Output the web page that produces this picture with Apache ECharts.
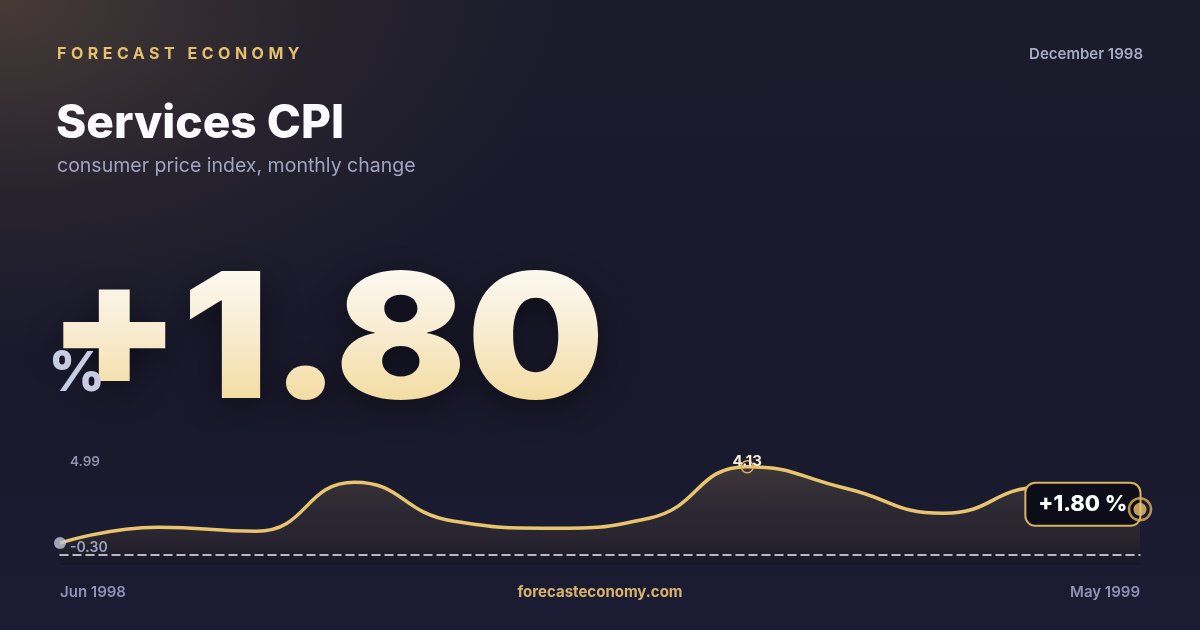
<!DOCTYPE html>
<html>
<head>
<meta charset="utf-8">
<script src="https://cdn.jsdelivr.net/npm/echarts@6/dist/echarts.min.js"></script>
<style>
  html, body { margin: 0; padding: 0; }
  body {
    width: 1200px; height: 630px; overflow: hidden; position: relative;
    background:
      radial-gradient(ellipse 760px 480px at 0% 0%, rgba(105,84,62,0.55) 0%, rgba(80,64,52,0.25) 40%, rgba(40,36,48,0) 75%),
      linear-gradient(180deg, #1b1b2c 0%, #19192c 60%, #1b1b33 100%);
    font-family: Inter, "Noto Sans", sans-serif;
  }
  #kicker {
    position: absolute; left: 57px; top: 44px; line-height: 18px;
    font-size: 16px; font-weight: 700; letter-spacing: 4.5px; color: #e4c06c;
    font-family: Inter, sans-serif; z-index: 2; white-space: nowrap;
  }
  #big {
    position: absolute; left: 47px; top: 248px; z-index: 3;
    font-family: Inter, sans-serif; font-size: 174px; line-height: 174px; font-weight: 900;
    white-space: nowrap; transform: scaleX(1.115); transform-origin: 0 0;
    background: linear-gradient(180deg, #fefdfb 0%, #f8edd4 45%, #f2d894 100%);
    -webkit-background-clip: text; background-clip: text; color: transparent;
    filter: drop-shadow(0 10px 16px rgba(0,0,0,0.45));
  }
  #pct {
    position: absolute; left: 48.5px; top: 344px; z-index: 4;
    font-family: Inter, sans-serif; font-size: 55px; line-height: 55px; font-weight: 800;
    color: #c8cbe4; white-space: nowrap;
  }
  #chart { position: absolute; left: 0; top: 0; width: 1200px; height: 630px; z-index: 1; }
</style>
</head>
<body>
<div id="chart"></div>
<div id="kicker">FORECAST ECONOMY</div>
<div id="big"></div>
<div id="pct">%</div>
<script>
// ---- data ----
const months = ['Jun 1998','Jul 1998','Aug 1998','Sep 1998','Oct 1998','Nov 1998',
                'Dec 1998','Jan 1999','Feb 1999','Mar 1999','Apr 1999','May 1999'];
const values = [-0.05, 0.82, 0.60, 3.28, 1.16, 0.76, 1.31, 4.13, 2.95, 1.58, 3.00, 1.80];
const yTickLabels = [4.99, -0.30];
const titleText = 'Services CPI';
const subtitleText = 'consumer price index, monthly change';
const dateText = 'December 1998';
const siteText = 'forecasteconomy.com';

const last = values.length - 1;
const latest = values[last];
const fmtSigned = v => (v >= 0 ? '+' : '') + v.toFixed(2);
document.getElementById('big').textContent = fmtSigned(latest);

const chart = echarts.init(document.getElementById('chart'), null, { renderer: 'canvas' });
const GOLD = '#e8c46e';
const FONT = 'Inter, "Noto Sans", sans-serif';

chart.setOption({
  backgroundColor: 'transparent',
  animation: false,
  grid: { left: 60, right: 60, top: 451, bottom: 65, containLabel: false },
  xAxis: {
    type: 'category',
    data: months,
    boundaryGap: false,
    offset: -10,
    z: 4,
    axisLine: { show: true, onZero: false, lineStyle: { color: '#ffffff', opacity: 0.92, width: 1.5, type: [8, 5] } },
    axisTick: { show: false },
    splitLine: { show: false },
    axisLabel: {
      interval: (i) => i === 0 || i === months.length - 1,
      alignMinLabel: 'left',
      alignMaxLabel: 'right',
      margin: 30,
      color: '#8f93b3',
      fontSize: 15,
      fontWeight: 600,
      fontFamily: FONT
    }
  },
  yAxis: {
    type: 'value',
    min: -1.25,
    max: 4.99,
    z: 4,
    axisLine: { show: false },
    axisTick: { show: false },
    splitLine: { show: false },
    axisLabel: {
      inside: true,
      margin: 10,
      customValues: yTickLabels,
      formatter: (v) => (v > 2 ? '{hi|' + Number(v).toFixed(2) + '}' : '{lo|' + Number(v).toFixed(2) + '}'),
      rich: {
        hi: { color: '#8e91ad', fontSize: 13.5, fontWeight: 600, fontFamily: FONT, padding: [21, 0, 0, 0] },
        lo: { color: '#9ea2bf', fontSize: 14, fontWeight: 600, fontFamily: FONT }
      }
    }
  },
  series: [
    {
      type: 'line',
      data: values,
      smooth: true,
      symbol: 'none',
      z: 2,
      lineStyle: { color: GOLD, width: 3.5 },
      areaStyle: {
        origin: 'start',
        color: new echarts.graphic.LinearGradient(0, 0, 0, 1, [
          { offset: 0, color: 'rgba(232,196,110,0.25)' },
          { offset: 0.5, color: 'rgba(160,130,70,0.18)' },
          { offset: 1, color: 'rgba(10,10,20,0.45)' }
        ])
      },
      markPoint: {
        z: 3,
        data: [
          {
            type: 'max',
            symbol: 'circle',
            symbolSize: 12,
            itemStyle: { color: 'rgba(0,0,0,0)', borderColor: '#deb45a', borderWidth: 1.5 },
            label: {
              show: true, position: 'inside', offset: [0, -5],
              formatter: (p) => Number(p.value).toFixed(2),
              color: '#f6eedc', fontSize: 15, fontWeight: 700, fontFamily: FONT
            }
          },
          {
            coord: [months[last], latest],
            value: latest,
            symbol: 'circle',
            symbolSize: 1,
            itemStyle: { color: 'rgba(0,0,0,0)' },
            label: {
              show: true, position: 'left', distance: 0, offset: [0, -5],
              formatter: () => fmtSigned(latest) + ' %',
              color: '#ffffff', fontSize: 22, fontWeight: 800, fontFamily: FONT,
              backgroundColor: '#0c0d19', borderColor: '#d9b25e', borderWidth: 2,
              borderRadius: 9, padding: [10, 12, 9, 12]
            }
          }
        ]
      }
    },
    {
      type: 'scatter',
      z: 10,
      silent: true,
      data: [
        { value: [months[last], latest], symbol: 'circle', symbolSize: 22,
          itemStyle: { color: 'rgba(0,0,0,0)', borderColor: '#ddb258', borderWidth: 2.5 } },
        { value: [months[last], latest], symbol: 'circle', symbolSize: 13,
          itemStyle: { color: GOLD } },
        { value: [months[0], values[0]], symbol: 'circle', symbolSize: 12,
          itemStyle: { color: '#c3c6dc' } }
      ]
    }
  ],
  graphic: [
    { type: 'text', x: 1143, y: 54, z: 20,
      style: { text: dateText, fill: '#a8abc8', fontSize: 15, fontWeight: 600, fontFamily: FONT,
               align: 'right', verticalAlign: 'middle', textAlign: 'right', textVerticalAlign: 'middle' } },
    { type: 'text', x: 56, y: 124, z: 20,
      style: { text: titleText, fill: '#fafaff', fontSize: 46, fontWeight: 800, fontFamily: FONT,
               align: 'left', verticalAlign: 'middle', textAlign: 'left', textVerticalAlign: 'middle' } },
    { type: 'text', x: 57, y: 166, z: 20,
      style: { text: subtitleText, fill: '#a0a3c2', fontSize: 19.5, fontWeight: 400, fontFamily: FONT,
               align: 'left', verticalAlign: 'middle', textAlign: 'left', textVerticalAlign: 'middle' } },
    { type: 'text', x: 600, y: 592, z: 20,
      style: { text: siteText, fill: '#d9b46a', fontSize: 15, fontWeight: 700, fontFamily: FONT,
               align: 'center', verticalAlign: 'middle', textAlign: 'center', textVerticalAlign: 'middle' } }
  ]
});
</script>
</body>
</html>
